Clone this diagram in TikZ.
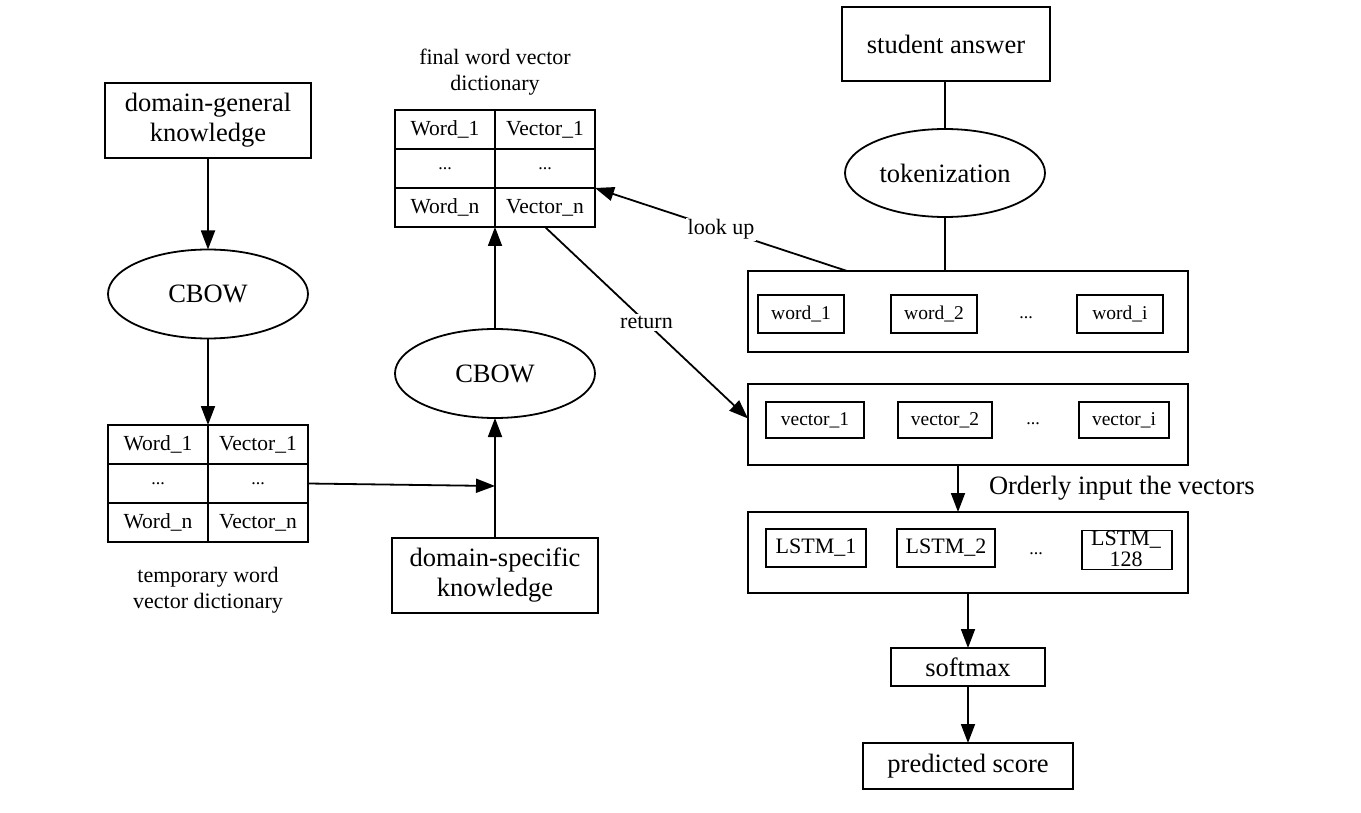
\documentclass[tikz,border=0pt]{standalone}
\usepackage{fontspec}
\setmainfont{Liberation Serif}
\usetikzlibrary{arrows.meta,shapes.geometric}
\newcommand{\tdots}{{\fontsize{18}{18}\selectfont ...}}
\begin{document}
\begin{tikzpicture}[x=1pt,y=-1pt,
  every node/.style={inner sep=0pt, outer sep=0pt, line width=1.8pt},
  big/.style={font=\fontsize{26.5}{30}\selectfont, align=center},
  box/.style={draw, rectangle, big},
  oval/.style={draw, ellipse, big},
  cell/.style={draw, rectangle, minimum width=100pt, minimum height=39pt, font=\fontsize{21.5}{24}\selectfont},
  captxt/.style={font=\fontsize{22}{26.5}\selectfont, align=center},
  container/.style={draw, rectangle, minimum width=440pt, minimum height=81pt},
  smallbox/.style={draw, rectangle, minimum height=38pt, font=\fontsize{19.5}{22}\selectfont},
  lstmbox/.style={draw, rectangle, minimum height=38pt, font=\fontsize{22}{21}\selectfont, align=center},
  dotstxt/.style={font=\fontsize{19.5}{22}\selectfont},
  lbl/.style={font=\fontsize{22}{24}\selectfont, fill=white, inner sep=2pt},
  arr/.style={line width=1.8pt, -{Triangle[length=19pt,width=14pt]}},
  ln/.style={line width=1.8pt},
]
\useasboundingbox (0,0) rectangle (1361,813);

% left column
\node[box, minimum width=206pt, minimum height=75pt] (dg) at (208,120.5) {domain-general\\knowledge};
\node[oval, minimum width=200pt, minimum height=89pt] (cb1) at (208,294) {CBOW};
\node[cell] (tA1) at (158,444.5) {Word\_1};
\node[cell] (tA2) at (258,444.5) {Vector\_1};
\node[cell] (tB1) at (158,483.5) {\tdots};
\node[cell] (tB2) at (258,483.5) {\tdots};
\node[cell] (tC1) at (158,522.5) {Word\_n};
\node[cell] (tC2) at (258,522.5) {Vector\_n};
\node[captxt] (tcap) at (208,590) {temporary word\\vector dictionary};

% middle column
\node[captxt] (fcap) at (495,72) {final word vector\\dictionary};
\node[cell] (fA1) at (445,129.5) {Word\_1};
\node[cell] (fA2) at (545,129.5) {Vector\_1};
\node[cell] (fB1) at (445,168.5) {\tdots};
\node[cell] (fB2) at (545,168.5) {\tdots};
\node[cell] (fC1) at (445,207.5) {Word\_n};
\node[cell] (fC2) at (545,207.5) {Vector\_n};
\node[oval, minimum width=200pt, minimum height=89pt] (cb2) at (495,373.5) {CBOW};
\node[box, minimum width=206pt, minimum height=75pt] (ds) at (495,575.5) {domain-specific\\knowledge};
\coordinate (join) at (495,486);

% right column
\node[box, minimum width=208pt, minimum height=74pt] (sa) at (946,44) {student answer};
\node[oval, minimum width=200pt, minimum height=88pt] (tok) at (945,173) {tokenization};

\node[container] (wc) at (968,311.5) {};
\node[smallbox, minimum width=86pt] (w1) at (801,314) {word\_1};
\node[smallbox, minimum width=86pt] (w2) at (934,314) {word\_2};
\node[dotstxt] (wd) at (1026,318) {\tdots};
\node[smallbox, minimum width=86pt] (wi) at (1120,314) {word\_i};

\node[container] (vc) at (968,424.5) {};
\node[smallbox, minimum width=98pt, minimum height=36pt] (v1) at (815,420) {vector\_1};
\node[smallbox, minimum width=94pt, minimum height=36pt] (v2) at (945,420) {vector\_2};
\node[dotstxt] (vd) at (1033,424) {\tdots};
\node[smallbox, minimum width=90pt, minimum height=36pt] (vi) at (1124,420) {vector\_i};

\node[big, anchor=west] (ord) at (989,488) {Orderly input the vectors};

\node[container] (lc) at (968,552.5) {};
\node[lstmbox, minimum width=100pt] (l1) at (816,548) {LSTM\_1};
\node[lstmbox, minimum width=98pt] (l2) at (946,548) {LSTM\_2};
\node[dotstxt] (ld) at (1036,554) {\tdots};
\node[draw, rectangle, minimum width=90pt, minimum height=39pt] (l128) at (1127,550) {};
\node[font=\fontsize{22}{21}\selectfont, align=center] (l128t) at (1126,549) {LSTM\_\\128};

\node[box, minimum width=154pt, minimum height=38pt] (sm) at (968,667) {softmax};
\node[box, minimum width=210pt, minimum height=46pt] (ps) at (968,766) {predicted score};

% connectors
\draw[arr] (dg) -- (cb1);
\draw[arr] (cb1.south) -- (tA1.north east);
\draw[arr] (ds) -- (cb2);
\draw[arr] (cb2.north) -- (fC1.south east);
\draw[arr] (tB2.east) -- (join);

\draw[ln] (tok.north) -- (tok.north |- sa.south);
\draw[ln] (tok.south) -- (tok.south |- wc.north);
\draw[arr] ([xshift=99pt]wc.north west) -- node[lbl] {look up} (fB2.south east);
\draw[arr] (fC2.south) -- node[lbl] {return} ([yshift=6pt]vc.west);
\draw[arr] ([xshift=-10pt]vc.south) -- ([xshift=-10pt]lc.north);
\draw[arr] (lc.south) -- (sm);
\draw[arr] (sm) -- (ps);
\end{tikzpicture}
\end{document}
